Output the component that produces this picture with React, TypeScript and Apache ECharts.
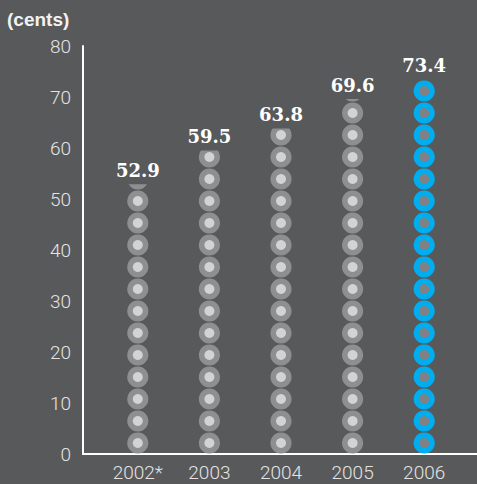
import React, { useEffect, useRef } from "react";
import * as echarts from "echarts";

const categories = ["2002*", "2003", "2004", "2005", "2006"];
const values = [52.9, 59.5, 63.8, 69.6, 73.4];
const highlightIndex = 4;
const yTicks = { min: 0, max: 80, interval: 10 };
const unitLabel = "(cents)";

const BG = "#58595b";
const RING = "#8e8f91";
const DOT = "#d2d3d5";
const RING_HI = "#00aeef";
const DOT_HI = "#808184";
const TICK = "#e4e4e4";
const TICK_FONT = "Roboto, 'Liberation Sans', sans-serif";

export default function App() {
  const ref = useRef<HTMLDivElement>(null);
  useEffect(() => {
    if (!ref.current) return;
    const chart = echarts.init(ref.current, null, { renderer: "svg" });
    const gridTop = 46;
    const gridBottom = 30;
    const gridHeight = 484 - gridTop - gridBottom;
    const unit = 22;
    const reps = 18;
    const bounding = (yTicks.max * reps * unit) / gridHeight;

    const outer = values.map((v, i) => ({
      value: v,
      itemStyle: { color: i === highlightIndex ? RING_HI : RING },
    }));
    const inner = values.map((v, i) => ({
      value: v,
      itemStyle: { color: i === highlightIndex ? DOT_HI : DOT },
    }));

    chart.setOption({
      animation: false,
      backgroundColor: BG,
      graphic: [
        {
          type: "text",
          left: 7,
          top: 10,
          style: {
            text: unitLabel,
            fill: "#f2f2f2",
            font: "bold 19px 'Liberation Sans', Arial, sans-serif",
          },
        },
      ],
      grid: [
        { left: 83, right: 0, top: gridTop, bottom: gridBottom },
        { left: 102, right: 17, top: gridTop, bottom: gridBottom },
      ],
      xAxis: [
        {
          gridIndex: 0,
          type: "value",
          min: 0,
          max: 1,
          axisLine: { show: true, lineStyle: { color: "#ffffff", width: 2 } },
          axisTick: { show: false },
          axisLabel: { show: false },
          splitLine: { show: false },
        },
        {
          gridIndex: 1,
          type: "category",
          data: categories,
          axisLine: { show: false },
          axisTick: { show: false },
          axisLabel: {
            color: TICK,
            fontSize: 19,
            fontFamily: TICK_FONT,
            fontWeight: 300,
            margin: 9,
          },
        },
      ],
      yAxis: [
        {
          gridIndex: 0,
          type: "value",
          min: yTicks.min,
          max: yTicks.max,
          interval: yTicks.interval,
          axisLine: { show: true, lineStyle: { color: "#ffffff", width: 2 } },
          axisTick: { show: false },
          splitLine: { show: false },
          axisLabel: {
            color: TICK,
            fontSize: 19,
            fontFamily: TICK_FONT,
            fontWeight: 300,
            margin: 12,
          },
        },
        {
          gridIndex: 1,
          type: "value",
          min: yTicks.min,
          max: yTicks.max,
          show: false,
        },
      ],
      series: [
        {
          type: "pictorialBar",
          xAxisIndex: 1,
          yAxisIndex: 1,
          data: outer,
          symbol: "circle",
          symbolSize: [21, 21],
          symbolRepeat: true,
          symbolMargin: "0.5!",
          symbolClip: true,
          symbolBoundingData: bounding,
          symbolPosition: "start",
          barGap: "-100%",
          z: 2,
        },
        {
          type: "pictorialBar",
          xAxisIndex: 1,
          yAxisIndex: 1,
          data: inner,
          symbol: "circle",
          symbolSize: [10, 10],
          symbolRepeat: true,
          symbolMargin: "6!",
          symbolClip: true,
          symbolBoundingData: bounding,
          symbolPosition: "start",
          barGap: "-100%",
          z: 3,
        },
        {
          type: "bar",
          xAxisIndex: 1,
          yAxisIndex: 1,
          data: values,
          barWidth: 22,
          barGap: "-100%",
          itemStyle: { color: "rgba(0,0,0,0)" },
          silent: true,
          z: 4,
          label: {
            show: true,
            position: "top",
            distance: 5,
            color: "#ffffff",
            fontSize: 18,
            fontWeight: "bold",
            fontFamily: "'DejaVu Serif', serif",
            formatter: (p: any) => Number(p.value).toFixed(1),
          },
        },
      ],
    });
    return () => chart.dispose();
  }, []);
  return <div ref={ref} style={{ width: 477, height: 484, position: "absolute", left: 0, top: 0 }} />;
}
